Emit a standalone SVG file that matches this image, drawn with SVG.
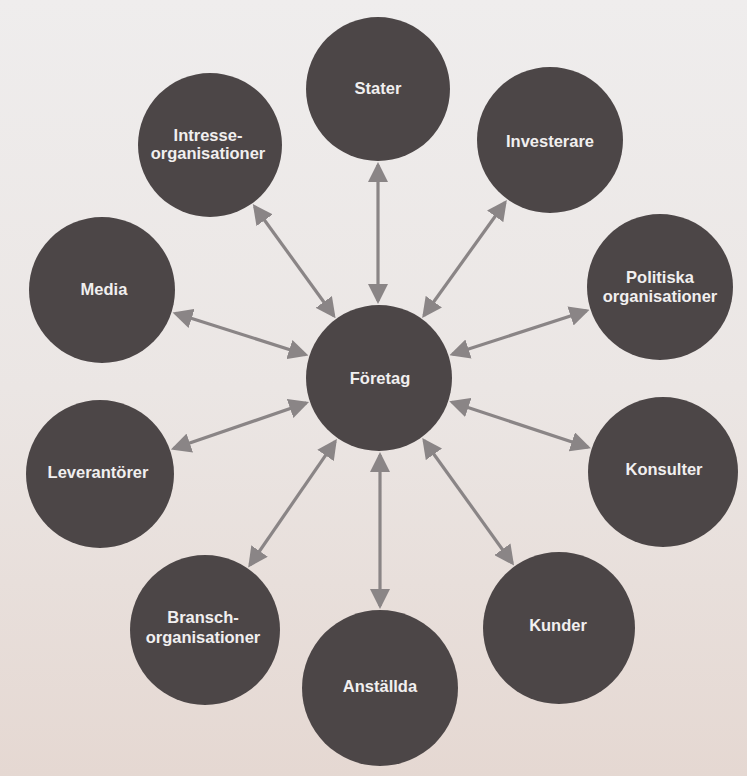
<svg xmlns="http://www.w3.org/2000/svg" width="747" height="776" viewBox="0 0 747 776">
<defs>
<linearGradient id="bg" x1="0" y1="0" x2="0" y2="1">
<stop offset="0" stop-color="#efeded"/>
<stop offset="0.5" stop-color="#ebe6e4"/>
<stop offset="1" stop-color="#e5d8d2"/>
</linearGradient>
<marker id="ah" viewBox="0 0 20 20" refX="17" refY="10" markerWidth="20" markerHeight="20" markerUnits="userSpaceOnUse" orient="auto-start-reverse">
<path d="M0,0 L20,10 L0,20 z" fill="#8a8586"/>
</marker>
<style>
.node circle{fill:#4c4647;}
.node text{font-family:"Liberation Sans",Arial,sans-serif;font-weight:bold;font-size:16.5px;fill:#f1efef;text-anchor:middle;}
.conn line{stroke:#8a8586;stroke-width:3.2;marker-start:url(#ah);marker-end:url(#ah);}
</style>
</defs>
<rect x="0" y="0" width="747" height="776" fill="url(#bg)"/>
<g id="connectors" class="conn">
<line x1="378" y1="165" x2="378" y2="301"/>
<line x1="254.6" y1="206.5" x2="333.8" y2="315.7"/>
<line x1="505.1" y1="202.5" x2="423.9" y2="315.5"/>
<line x1="175.4" y1="313.3" x2="305.6" y2="354.7"/>
<line x1="452.3" y1="354.3" x2="586.7" y2="310.7"/>
<line x1="306.2" y1="403" x2="173.7" y2="448.6"/>
<line x1="452.1" y1="402.2" x2="588" y2="447.2"/>
<line x1="335.2" y1="441.4" x2="249.9" y2="565"/>
<line x1="380" y1="455" x2="380" y2="606"/>
<line x1="424" y1="440.5" x2="512.3" y2="563.1"/>
</g>
<g id="stater" class="node"><circle cx="378" cy="89" r="72"/><text x="378" y="94">Stater</text></g>
<g id="intresse" class="node"><circle cx="210" cy="145" r="72"/><text x="208" y="141">Intresse-</text><text x="208" y="159">organisationer</text></g>
<g id="investerare" class="node"><circle cx="550" cy="140" r="73"/><text x="550" y="147">Investerare</text></g>
<g id="media" class="node"><circle cx="102" cy="290" r="73"/><text x="104" y="295">Media</text></g>
<g id="politiska" class="node"><circle cx="660" cy="287" r="73"/><text x="660" y="283">Politiska</text><text x="660" y="302">organisationer</text></g>
<g id="foretag" class="node"><circle cx="379" cy="378" r="73"/><text x="380" y="384">Företag</text></g>
<g id="leverantorer" class="node"><circle cx="100" cy="474" r="74"/><text x="98" y="478">Leverantörer</text></g>
<g id="konsulter" class="node"><circle cx="663" cy="472" r="75"/><text x="664" y="475">Konsulter</text></g>
<g id="bransch" class="node"><circle cx="205" cy="630" r="75"/><text x="203" y="623">Bransch-</text><text x="203" y="643">organisationer</text></g>
<g id="anstallda" class="node"><circle cx="380" cy="688" r="78"/><text x="380" y="692">Anställda</text></g>
<g id="kunder" class="node"><circle cx="559" cy="628" r="76"/><text x="558" y="631">Kunder</text></g>
</svg>
